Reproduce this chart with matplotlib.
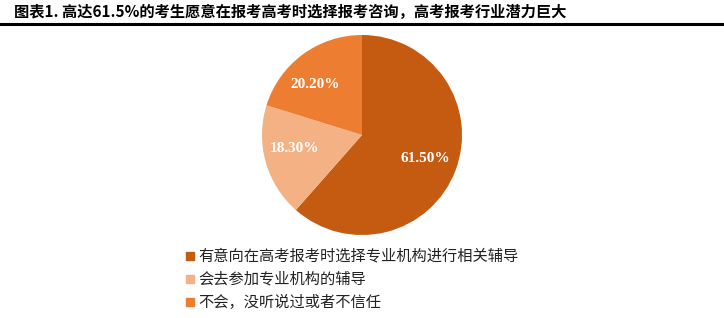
import matplotlib.pyplot as plt
from matplotlib.patches import Rectangle

plt.rcParams['font.family'] = ['Noto Sans CJK SC', 'DejaVu Sans']

title = '图表1. 高达61.5%的考生愿意在报考高考时选择报考咨询，高考报考行业潜力巨大'
labels = ['有意向在高考报考时选择专业机构进行相关辅导', '会去参加专业机构的辅导', '不会，没听说过或者不信任']
values = [61.5, 18.3, 20.2]
colors = ['#C55A11', '#F4B183', '#ED7D31']

fig = plt.figure(figsize=(7.24, 3.18), dpi=100)
W, H = 724, 318

# title and rule
fig.text(14 / W, 1 - 12 / H, title, fontsize=11, fontweight='bold', va='center', ha='left')
fig.add_artist(plt.Line2D([0, 1], [1 - 24 / H, 1 - 24 / H], color='black', lw=2.2,
                          transform=fig.transFigure))

# pie
cx, cy, r = 362, 135, 100
ax = fig.add_axes([(cx - r) / W, 1 - (cy + r) / H, 2 * r / W, 2 * r / H])
wedges, _ = ax.pie(values, colors=colors, startangle=90, counterclock=False,
                   wedgeprops=dict(linewidth=0))
ax.set_aspect('equal')
ax.set_xlim(-1, 1)
ax.set_ylim(-1, 1)

label_pos = [(0.63, -0.23), (-0.68, -0.13), (-0.47, 0.50)]
for v, (x, y) in zip(values, label_pos):
    ax.text(x, y, f'{v:.2f}%', ha='center', va='center', color='white',
            fontsize=11, fontweight='bold', family=['Liberation Serif', 'DejaVu Serif'])

# legend
for i, (lab, c) in enumerate(zip(labels, colors)):
    y = 256 + i * 23
    fig.add_artist(Rectangle((186 / W, 1 - (y + 4) / H), 8 / W, 8 / H, color=c,
                             transform=fig.transFigure))
    fig.text(198 / W, 1 - y / H, lab, fontsize=11, va='center', ha='left', color='#222222')

fig.savefig('out.png', dpi=100)
